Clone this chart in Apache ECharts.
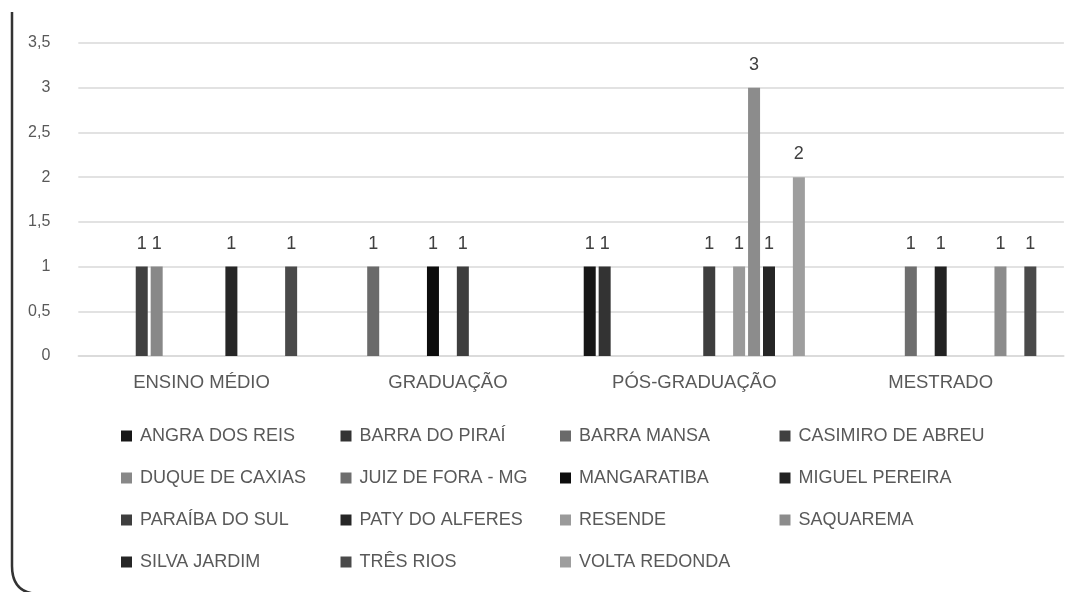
<!DOCTYPE html>
<html>
<head>
<meta charset="utf-8">
<script src="https://cdn.jsdelivr.net/npm/echarts@6/dist/echarts.min.js"></script>
<style>
html,body{margin:0;padding:0;background:#fff;}
#c{width:1077px;height:592px;}
</style>
</head>
<body>
<div id="c"></div>
<script>
const categories = ['ENSINO MÉDIO', 'GRADUAÇÃO', 'PÓS-GRADUAÇÃO', 'MESTRADO'];
const seriesNames = ['ANGRA DOS REIS', 'BARRA DO PIRAÍ', 'BARRA MANSA', 'CASIMIRO DE ABREU',
  'DUQUE DE CAXIAS', 'JUIZ DE FORA - MG', 'MANGARATIBA', 'MIGUEL PEREIRA',
  'PARAÍBA DO SUL', 'PATY DO ALFERES', 'RESENDE', 'SAQUAREMA',
  'SILVA JARDIM', 'TRÊS RIOS', 'VOLTA REDONDA'];
// values per series, in category order (null = no bar)
const angraDosReis    = [null, null, 1, null];
const barraDoPirai    = [null, null, 1, null];
const barraMansa      = [null, 1, null, null];
const casimiroDeAbreu = [1, null, null, null];
const duqueDeCaxias   = [1, null, null, null];
const juizDeFora      = [null, null, null, 1];
const mangaratiba     = [null, 1, null, null];
const miguelPereira   = [null, null, null, 1];
const paraibaDoSul    = [null, 1, 1, null];
const patyDoAlferes   = [1, null, null, null];
const resende         = [null, null, 1, null];
const saquarema       = [null, null, 3, 1];
const silvaJardim     = [null, null, 1, null];
const tresRios        = [1, null, null, 1];
const voltaRedonda    = [null, null, 2, null];
const seriesValues = [angraDosReis, barraDoPirai, barraMansa, casimiroDeAbreu,
  duqueDeCaxias, juizDeFora, mangaratiba, miguelPereira, paraibaDoSul,
  patyDoAlferes, resende, saquarema, silvaJardim, tresRios, voltaRedonda];
const yTicks = [0, 0.5, 1, 1.5, 2, 2.5, 3, 3.5];

const colors = ['#171717', '#333333', '#6a6a6a', '#404040', '#888888', '#6e6e6e',
  '#0d0d0d', '#222222', '#3e3e3e', '#262626', '#9a9a9a', '#8c8c8c',
  '#262626', '#4a4a4a', '#9e9e9e'];

const FONT = 'Liberation Sans';
const chart = echarts.init(document.getElementById('c'), null, {renderer: 'canvas'});

const series = seriesNames.map((name, i) => ({
  name: name,
  type: 'bar',
  data: seriesValues[i],
  barWidth: 12,
  barGap: '24.5%',
  itemStyle: {color: colors[i]},
  label: {
    show: true,
    position: 'top',
    distance: 14,
    color: '#404040',
    fontSize: 18,
    fontFamily: FONT
  }
}));

chart.setOption({
  animation: false,
  backgroundColor: '#fff',
  color: colors,
  grid: {left: 78.3, right: 13.1, top: 43, bottom: 236, containLabel: false},
  xAxis: {
    type: 'category',
    data: categories,
    axisLine: {show: true, lineStyle: {color: '#d9d9d9', width: 1.5}},
    axisTick: {show: false},
    axisLabel: {color: '#595959', fontSize: 18.5, fontFamily: FONT, margin: 17}
  },
  yAxis: {
    type: 'value',
    min: yTicks[0],
    max: yTicks[yTicks.length - 1],
    interval: 0.5,
    axisLine: {show: false},
    axisTick: {show: false},
    splitLine: {lineStyle: {color: '#d9d9d9', width: 1.5}},
    axisLabel: {
      color: '#595959', fontSize: 16, fontFamily: FONT, margin: 28,
      formatter: v => String(v).replace('.', ',')
    }
  },
  legend: {
    left: 116,
    top: 415,
    width: 900,
    orient: 'horizontal',
    itemWidth: 11,
    itemHeight: 11,
    itemGap: 10,
    icon: 'rect',
    data: seriesNames,
    textStyle: {
      color: '#595959', fontSize: 18, fontFamily: FONT,
      width: 190.5, lineHeight: 32, padding: [0, 0, 0, 3]
    }
  },
  graphic: [{
    type: 'line',
    shape: {x1: 12, y1: 12, x2: 12, y2: 566},
    style: {stroke: '#333333', lineWidth: 2.5}
  }, {
    type: 'bezierCurve',
    shape: {x1: 12, y1: 566, cpx1: 12, cpy1: 594, x2: 40, y2: 594},
    style: {stroke: '#333333', lineWidth: 2.5, fill: null}
  }],
  series: series
});
</script>
</body>
</html>
